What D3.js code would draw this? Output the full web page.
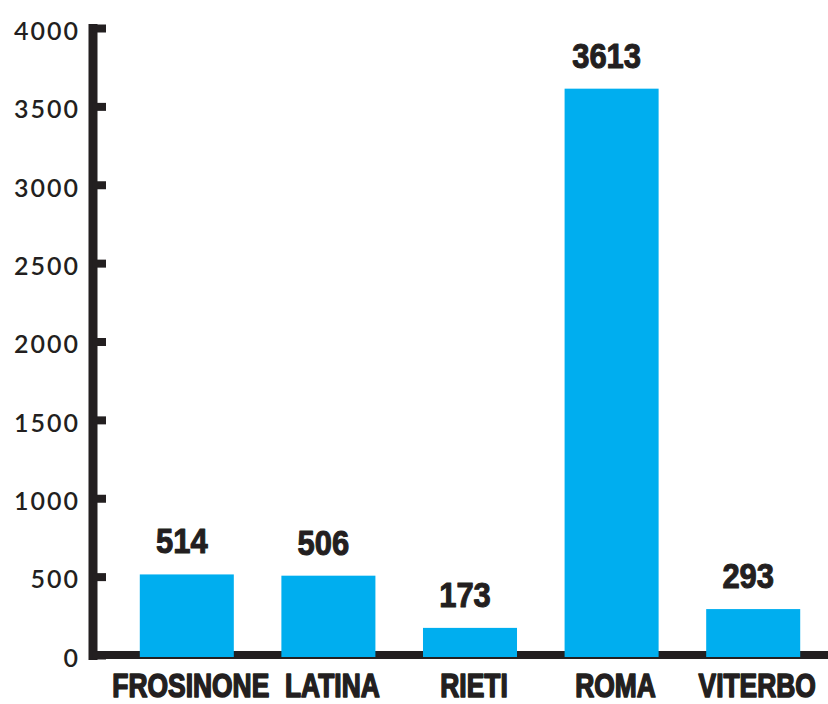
<!DOCTYPE html>
<html>
<head>
<meta charset="utf-8">
<script src="https://cdn.jsdelivr.net/npm/d3@7"></script>
<style>
  html, body { margin: 0; padding: 0; background: #ffffff; }
  svg { display: block; }
</style>
</head>
<body>
<svg id="chart" width="828" height="704"></svg>
<script>
// Provinces of Lazio and their counts
const categories = ["FROSINONE", "LATINA", "RIETI", "ROMA", "VITERBO"];
const values = [514, 506, 173, 3613, 293];
const yTicks = [0, 500, 1000, 1500, 2000, 2500, 3000, 3500, 4000];

const W = 828, H = 704;
const ink = "#231f20";
const barColor = "#00aeef";
const axisX = 92.5;
const heavy = "'Liberation Sans', Arial, sans-serif";

const svg = d3.select("#chart");

const x = d3.scaleBand()
  .domain(categories)
  .range([116, 824])
  .paddingInner(0.336)
  .paddingOuter(0.168);

const y = d3.scaleLinear()
  .domain([0, 4000])
  .range([655, 28]);

// Horizontal baseline
svg.append("line")
  .attr("x1", axisX - 1)
  .attr("x2", W)
  .attr("y1", y(0))
  .attr("y2", y(0))
  .attr("stroke", ink)
  .attr("stroke-width", 8);

// Bars (drawn over the baseline, reaching slightly below zero)
svg.append("g")
  .selectAll("rect")
  .data(values)
  .join("rect")
  .attr("x", (d, i) => x(categories[i]))
  .attr("width", x.bandwidth())
  .attr("y", d => y(d))
  .attr("height", d => y(0) + 2 - y(d))
  .attr("fill", barColor);

// Vertical axis with inward ticks
const yAxis = d3.axisLeft(y)
  .tickValues(yTicks)
  .tickFormat(d3.format("d"))
  .tickSizeInner(-13.5)
  .tickSizeOuter(0)
  .tickPadding(12.5);

const gy = svg.append("g")
  .attr("transform", `translate(${axisX},0)`)
  .call(yAxis);

gy.select(".domain")
  .attr("stroke", ink)
  .attr("stroke-width", 9)
  .attr("stroke-linecap", "square");

gy.selectAll(".tick line")
  .attr("stroke", ink)
  .attr("stroke-width", 8);

gy.selectAll(".tick text")
  .attr("fill", ink)
  .attr("dy", "0.45em")
  .style("font-family", "Lato, 'Open Sans', sans-serif")
  .style("font-size", "25px")
  .style("font-weight", "600")
  .style("letter-spacing", "2px");

// Category labels, condensed bold
svg.append("g")
  .selectAll("text")
  .data(categories)
  .join("text")
  .attr("transform", d => `translate(${x(d) + x.bandwidth() / 2 + 4},697) scale(0.8,1)`)
  .attr("text-anchor", "middle")
  .attr("fill", ink)
  .attr("stroke", ink)
  .attr("stroke-width", 1.6)
  .attr("stroke-linejoin", "round")
  .style("font-family", heavy)
  .style("font-weight", "bold")
  .style("font-size", "33px")
  .text(d => d);

// Value labels above bars
svg.append("g")
  .selectAll("text")
  .data(values)
  .join("text")
  .attr("transform", (d, i) => `translate(${x(categories[i]) + x.bandwidth() / 2 - 5},${y(d) - 21}) scale(0.86,1)`)
  .attr("text-anchor", "middle")
  .attr("fill", ink)
  .attr("stroke", ink)
  .attr("stroke-width", 1.1)
  .attr("stroke-linejoin", "round")
  .style("font-family", heavy)
  .style("font-weight", "bold")
  .style("font-size", "36px")
  .text(d => d);
</script>
</body>
</html>
